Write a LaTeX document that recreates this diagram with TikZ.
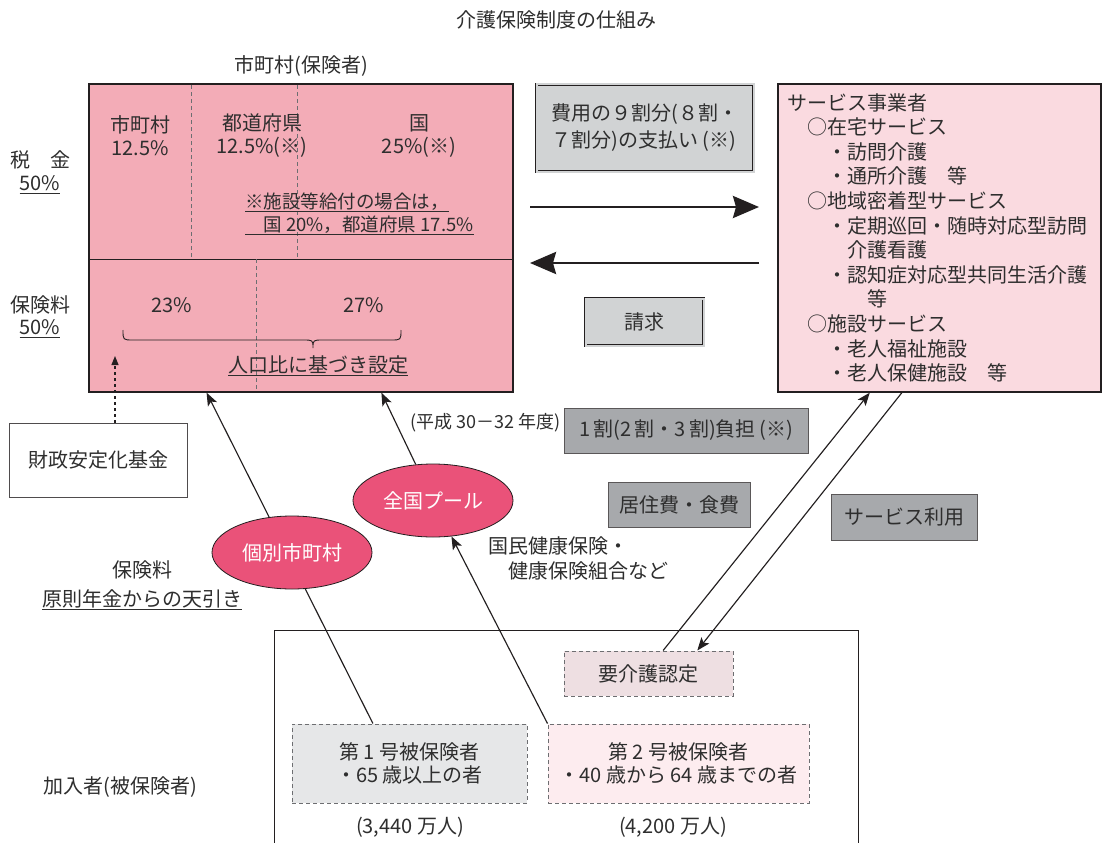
\documentclass[tikz,border=0pt]{standalone}
\usepackage{fontspec}
\setmainfont{Noto Sans CJK JP}
\usetikzlibrary{arrows.meta,shapes.geometric,calc}
\definecolor{ln}{HTML}{231F20}
\definecolor{tx}{HTML}{2E2E2E}
\definecolor{pinkA}{HTML}{F3ACB7}
\definecolor{pinkB}{HTML}{FADAE0}
\definecolor{rosE}{HTML}{EA5279}
\definecolor{grayA}{HTML}{D1D3D4}
\definecolor{grayB}{HTML}{A7A9AC}
\definecolor{mauve}{HTML}{EEDFE2}
\definecolor{grayC}{HTML}{E6E7E8}
\definecolor{pinkC}{HTML}{FDECEF}
\definecolor{dashc}{HTML}{6D6E71}
\newsavebox\ulbox
\newcommand\ulx[1]{\sbox\ulbox{#1}\rlap{\raisebox{-3.5pt}{\color{tx}\rule{\wd\ulbox}{1pt}}}\usebox\ulbox}
\begin{document}
\begin{tikzpicture}[x=1pt,y=-1pt,
  every node/.style={text=tx, font=\fontsize{20}{24}\selectfont, inner sep=0pt},
  box/.style={draw=ln, line width=1.3pt, rectangle},
  dbox/.style={draw=ln, fill=grayA, double=grayA, double distance=2pt, line width=0.8pt},
  gbox/.style={draw=ln!75, fill=grayB, line width=1pt},
  dshbox/.style={draw=dashc, dash pattern=on 4pt off 3pt, line width=1pt},
  dsh/.style={draw=dashc, dash pattern=on 4pt off 3pt, line width=1pt},
  arr/.style={draw=ln, line width=1.15pt, -{Stealth[length=13pt,width=10pt,inset=3pt]}},
  bigarr/.style={draw=ln, line width=2.8pt, -{Stealth[length=26pt,width=22pt,inset=3pt]}},
  elli/.style={ellipse, draw=ln, line width=0.8pt, fill=rosE, minimum width=160pt, minimum height=73pt, text=white}]

\useasboundingbox (0,0) rectangle (1106,843);
\fill[white] (0,0) rectangle (1106,843);

% titles
\node (title) at (556,20) {介護保険制度の仕組み};
\node (hoken) at (301,66) {市町村(保険者)};

% main box
\node[box, fill=pinkA, minimum width=424pt, minimum height=308pt] (mb) at (301,238) {};
\draw[ln, line width=1pt] (89,259) -- (513,259);
\draw[dsh] (191,85) -- (191,259);
\draw[dsh] (297,85) -- (297,259);
\draw[dsh] (256,259) -- (256,391);

\node[align=center, font=\fontsize{20}{23}\selectfont] (m1) at (140,136) {市町村\\12.5\%};
\node[align=center, font=\fontsize{20}{23}\selectfont] (m2) at (262,136) {都道府県\\12.5\%(※)};
\node[align=center, font=\fontsize{20}{23}\selectfont] (m3) at (419,136) {国\\25\%(※)};
\node[anchor=base west, font=\fontsize{18.5}{22}\selectfont] (note1) at (245,208) {\ulx{※施設等給付の場合は，}};
\node[anchor=base west, font=\fontsize{18.5}{22}\selectfont] (note2) at (245,231) {\ulx{　国 20\%，都道府県 17.5\%}};

\node (p23) at (172,305) {23\%};
\node (p27) at (364,305) {27\%};
\draw[ln, line width=0.9pt] (123,330) .. controls (123,340) and (123,340) .. (133,340) -- (303,340)
  .. controls (313,340) and (313,340) .. (313,348) .. controls (313,340) and (313,340) .. (323,340)
  -- (391,340) .. controls (401,340) and (401,340) .. (401,330);
\node[anchor=base] (jinko) at (318,372) {\ulx{人口比に基づき設定}};

% left labels
\node (zei) at (40,160) {税　金};
\node[anchor=base] (zei50) at (40,190) {\ulx{50\%}};
\node (hok) at (40,305) {保険料};
\node[anchor=base] (hok50) at (40,334) {\ulx{50\%}};

% zaisei
\node[draw=ln!80, line width=1pt, fill=white, minimum width=178pt, minimum height=74pt] (zai) at (98,460) {財政安定化基金};
\coordinate (zaitip) at (115,356);
\draw[ln, line width=1.2pt, dash pattern=on 3pt off 3pt, -{Triangle[length=9pt,width=7pt]}] (zai.north -| zaitip) -- (zaitip);

% fee box and arrows
\node[dbox, minimum width=217pt, minimum height=87pt, align=left, font=\fontsize{20}{27}\selectfont] (fee) at (645,128) {費用の９割分(８割・\\７割分)の支払い (※)};
\coordinate (a1s) at (530,207);
\coordinate (a1e) at (759,207);
\coordinate (a2s) at (759,263);
\coordinate (a2e) at (530,263);
\draw[bigarr] (a1s) -- (a1e);
\draw[bigarr] (a2s) -- (a2e);
\node[dbox, minimum width=118pt, minimum height=47pt] (seikyu) at (644.5,322) {請求};

% service box
\node[box, fill=pinkB, minimum width=323pt, minimum height=308pt] (svc) at (939.5,238) {};
\node[anchor=north west, align=left, font=\fontsize{20}{24.6}\selectfont] (svctext) at (787,93) {%
サービス事業者\\
　○在宅サービス\\
　　・訪問介護\\
　　・通所介護　等\\
　○地域密着型サービス\\
　　・定期巡回・随時対応型訪問\\
　　　介護看護\\
　　・認知症対応型共同生活介護\\
　　　　等\\
　○施設サービス\\
　　・老人福祉施設\\
　　・老人保健施設　等};

% gray labels
\node[gbox, minimum width=244pt, minimum height=45pt] (ichiwari) at (686,430.5) {1\,割(2\,割・3\,割)負担\,(※)};
\node[anchor=west, font=\fontsize{18}{20}\selectfont] (heisei) at (410,423) {(平成 30－32 年度)};
\node[gbox, minimum width=142pt, minimum height=45pt] (kyoju) at (679,504.5) {居住費・食費};
\node[gbox, minimum width=146pt, minimum height=46pt] (riyou) at (904,517) {サービス利用};

\node[anchor=north west, align=left, font=\fontsize{20}{25}\selectfont] (kokumin) at (488,536) {国民健康保険・\\　健康保険組合など};
\node (hokenryo) at (142,570) {保険料};
\node[anchor=base] (tenbiki) at (142,606) {\ulx{原則年金からの天引き}};
\node (kanyusha) at (120,787) {加入者(被保険者)};

% bottom
\node[box, minimum width=584pt, minimum height=240pt, anchor=north west] (kanyu) at (274,630) {};
\node[dshbox, fill=mauve, minimum width=169pt, minimum height=45pt] (yk) at (648.5,673.5) {要介護認定};
\node[dshbox, fill=grayC, minimum width=235pt, minimum height=79pt, align=center, font=\fontsize{20}{23}\selectfont] (b1) at (409.5,763.5) {第 1 号被保険者\\・65 歳以上の者};
\node[dshbox, fill=pinkC, minimum width=261pt, minimum height=79pt, align=center, font=\fontsize{20}{23}\selectfont] (b2) at (678.5,763.5) {第 2 号被保険者\\・40 歳から 64 歳までの者};
\node (c1) at (410,827) {(3,440 万人)};
\node (c2) at (673,827) {(4,200 万人)};

% connectors
\draw[arr] ($(b1.north west)!0.345!(b1.north east)$) -- ($(mb.south west)!0.278!(mb.south east)$);
\node[elli] (kb) at (292,552.5) {個別市町村};
\node[elli] (zp) at (433,500.5) {全国プール};
\draw[arr] (zp) -- ($(mb.south west)!0.689!(mb.south east)$);
\draw[arr] (b2.north west) -- (zp);
\draw[arr] ($(yk.north west)!0.586!(yk.north east)$) -- ($(svc.south west)!0.285!(svc.south east)$);
\draw[arr] ($(svc.south west)!0.384!(svc.south east)$) -- ($(yk.north west)!0.787!(yk.north east)$);
\end{tikzpicture}
\end{document}
